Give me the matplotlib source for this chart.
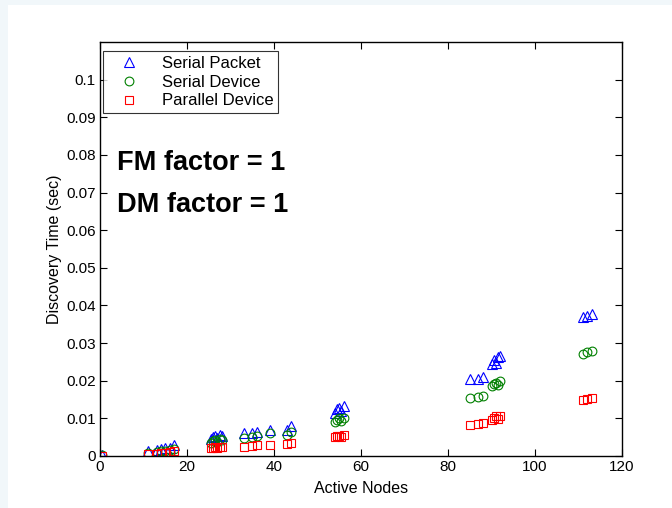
import matplotlib
matplotlib.use('Agg')
import matplotlib.pyplot as plt
from matplotlib.patches import Rectangle

plt.rcParams['font.family'] = ['Liberation Sans', 'DejaVu Sans']

# ---- data ----
nodes = [0.5,
         11, 13, 14, 15, 16, 17,
         25.5, 26, 26.5, 27, 27.5, 28,
         33, 35, 36,
         39,
         43, 44,
         54, 54.5, 55, 55.5, 56,
         85, 87, 88,
         90, 90.5, 91, 91.5, 92,
         111, 112, 113]

serial_packet = [0.0003,
                 0.0012, 0.0015, 0.0019, 0.0022, 0.0022, 0.0030,
                 0.0045, 0.0050, 0.0052, 0.0048, 0.0055, 0.0053,
                 0.0060, 0.0060, 0.0063,
                 0.0070,
                 0.0070, 0.0080,
                 0.0115, 0.0125, 0.0128, 0.0120, 0.0133,
                 0.0205, 0.0205, 0.0210,
                 0.0245, 0.0255, 0.0248, 0.0262, 0.0265,
                 0.0370, 0.0372, 0.0378]

serial_device = [0.0002,
                 0.0008, 0.0010, 0.0012, 0.0014, 0.0015, 0.0019,
                 0.0035, 0.0040, 0.0042, 0.0038, 0.0044, 0.0042,
                 0.0048, 0.0050, 0.0052,
                 0.0060,
                 0.0055, 0.0065,
                 0.0090, 0.0095, 0.0100, 0.0093, 0.0102,
                 0.0155, 0.0156, 0.0160,
                 0.0185, 0.0190, 0.0195, 0.0188, 0.0198,
                 0.0272, 0.0275, 0.0280]

parallel_device = [0.0001,
                   0.0005, 0.0006, 0.0008, 0.0009, 0.0010, 0.0012,
                   0.0020, 0.0022, 0.0025, 0.0021, 0.0024, 0.0023,
                   0.0025, 0.0026, 0.0028,
                   0.0030,
                   0.0032, 0.0035,
                   0.0050, 0.0052, 0.0053, 0.0051, 0.0055,
                   0.0083, 0.0084, 0.0088,
                   0.0095, 0.0100, 0.0105, 0.0098, 0.0107,
                   0.0150, 0.0152, 0.0155]

yticks = [0, 0.01, 0.02, 0.03, 0.04, 0.05, 0.06, 0.07, 0.08, 0.09, 0.1]
ytick_labels = ['0', '0.01', '0.02', '0.03', '0.04', '0.05', '0.06', '0.07', '0.08', '0.09', '0.1']
xticks = [0, 20, 40, 60, 80, 100, 120]

# ---- figure ----
fig = plt.figure(figsize=(6.72, 5.08), dpi=100, facecolor='#f1f7fa')
fig.patches.append(Rectangle((0.012, 0.0), 0.988, 0.99, transform=fig.transFigure,
                             facecolor='white', edgecolor='none', zorder=-10))

ax = fig.add_axes([0.1488, 0.1024, 0.7768, 0.8149])
ax.set_zorder(5)

ax.plot(nodes, serial_packet, linestyle='none', marker='^', markersize=7,
        markerfacecolor='none', markeredgecolor='blue', markeredgewidth=0.8,
        label='Serial Packet')
ax.plot(nodes, serial_device, linestyle='none', marker='o', markersize=6.3,
        markerfacecolor='none', markeredgecolor='#008000', markeredgewidth=0.8,
        label='Serial Device')
ax.plot(nodes, parallel_device, linestyle='none', marker='s', markersize=6.3,
        markerfacecolor='none', markeredgecolor='red', markeredgewidth=0.8,
        label='Parallel Device')

ax.set_xlim(0, 120)
ax.set_ylim(0, 0.11)
ax.set_xticks(xticks)
ax.set_yticks(yticks)
ax.set_yticklabels(ytick_labels)
ax.tick_params(direction='in', top=True, right=True, labelsize=11,
               length=5, width=0.8, pad=3)
for s in ax.spines.values():
    s.set_linewidth(1.0)

ax.set_xlabel('Active Nodes', fontsize=11.5, labelpad=5)
ax.set_ylabel('Discovery Time (sec)', fontsize=11.5, labelpad=3)

ax.text(0.032, 0.708, 'FM factor = 1', transform=ax.transAxes, fontsize=19.5,
        fontweight='bold', va='center', ha='left')
ax.text(0.032, 0.607, 'DM factor = 1', transform=ax.transAxes, fontsize=19.5,
        fontweight='bold', va='center', ha='left')

leg = ax.legend(loc='upper left', bbox_to_anchor=(-0.005, 0.992), fontsize=12,
                frameon=True, fancybox=False, edgecolor='black',
                borderpad=0.3, labelspacing=0.22, handletextpad=0.7,
                handlelength=2.5, borderaxespad=0.35)
leg.get_frame().set_linewidth(0.8)

plt.savefig('out.png', dpi=100, facecolor=fig.get_facecolor())
